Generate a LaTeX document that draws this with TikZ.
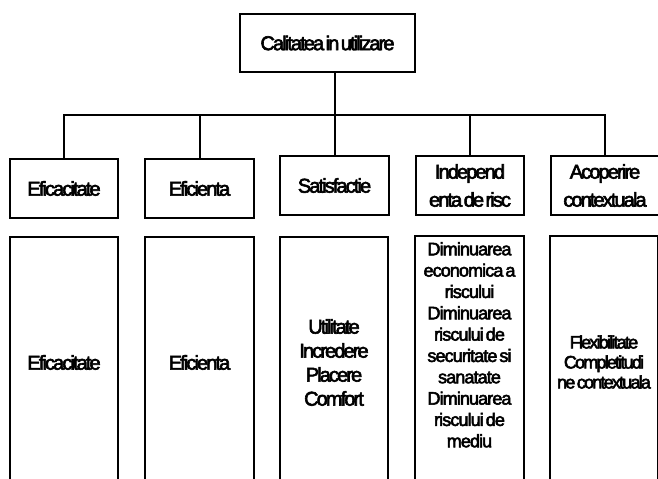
\documentclass[tikz,border=0pt]{standalone}
\usepackage{fontspec}
\setmainfont{Liberation Sans}
% tightly set Arial-like faces, as in the chart
\newfontfamily\tightA{Liberation Sans}[LetterSpace=-9.5,WordSpace=0.4,FakeBold=3]
\newfontfamily\tightB{Liberation Sans}[LetterSpace=-5,WordSpace=0.5,FakeBold=3]
\newfontfamily\tightC{Liberation Sans}[LetterSpace=-10,WordSpace=0.5,FakeBold=3]
\begin{document}
\begin{tikzpicture}[x=0.75pt,y=-0.75pt,line width=1.5pt,
  box/.style={draw,rectangle,inner sep=0pt,align=center,
    font=\tightA\fontsize{15}{18}\selectfont},
  headbox/.style={box,minimum height=44.25pt},
  listbox/.style={box,minimum height=188.25pt},
]
\useasboundingbox (0,0) rectangle (658,479);
\clip (0,0) rectangle (658,479);

% root
\node[box,minimum width=131.25pt,minimum height=43.5pt] (root) at (327.5,43) {Calitatea in utilizare};

% characteristics
\node[headbox,minimum width=81pt]    (h1) at (64,188.5)  {Eficacitate};
\node[headbox,minimum width=81.75pt] (h2) at (199.5,188.5) {Eficienta};
\node[headbox,minimum width=81.75pt] (h3) at (334.5,185.5) {Satisfactie};
\node[headbox,minimum width=81pt,font=\tightA\fontsize{15}{21}\selectfont]
  (h4) at (470,185.5) {Independ\\enta de risc};
\node[headbox,minimum width=81pt,font=\tightA\fontsize{15}{21}\selectfont]
  (h5) at (605,185.5) {Acoperire\\contextuala};

% sub-characteristics
\node[listbox,minimum width=81pt]    (b1) at (64,362.5)  {Eficacitate};
\node[listbox,minimum width=81.75pt] (b2) at (199.5,362.5) {Eficienta};
\node[listbox,minimum width=81pt,font=\tightA\fontsize{15}{18}\selectfont]
  (b3) at (334,362.5) {Utilitate\\Incredere\\Placere\\Comfort};
\node[listbox,minimum width=81.75pt,minimum height=189pt,
  font=\tightB\fontsize{13.5}{16}\selectfont]
  (b4) at (469.5,362) {\raisebox{0pt}[\height][\dimexpr\depth+22.5pt\relax]{%
    \begin{tabular}{@{}c@{}}
    Diminuarea\\economica a\\riscului\\Diminuarea\\riscului de\\
    securitate si\\sanatate\\Diminuarea\\riscului de\\mediu
    \end{tabular}}};
\node[listbox,minimum width=81pt,minimum height=189pt,
  font=\tightC\fontsize{13.5}{15}\selectfont]
  (b5) at (604,362) {Flexibilitate\\Completitudi\\ne contextuala};

% connectors
\coordinate (bus) at (335,115);
\draw (root.south -| h3.north) -- (h3.north);
\draw (h1.north) |- (bus) -| (h5.north);
\draw (h2.north |- bus) -- (h2.north);
\draw (h4.north |- bus) -- (h4.north);
\end{tikzpicture}
\end{document}
